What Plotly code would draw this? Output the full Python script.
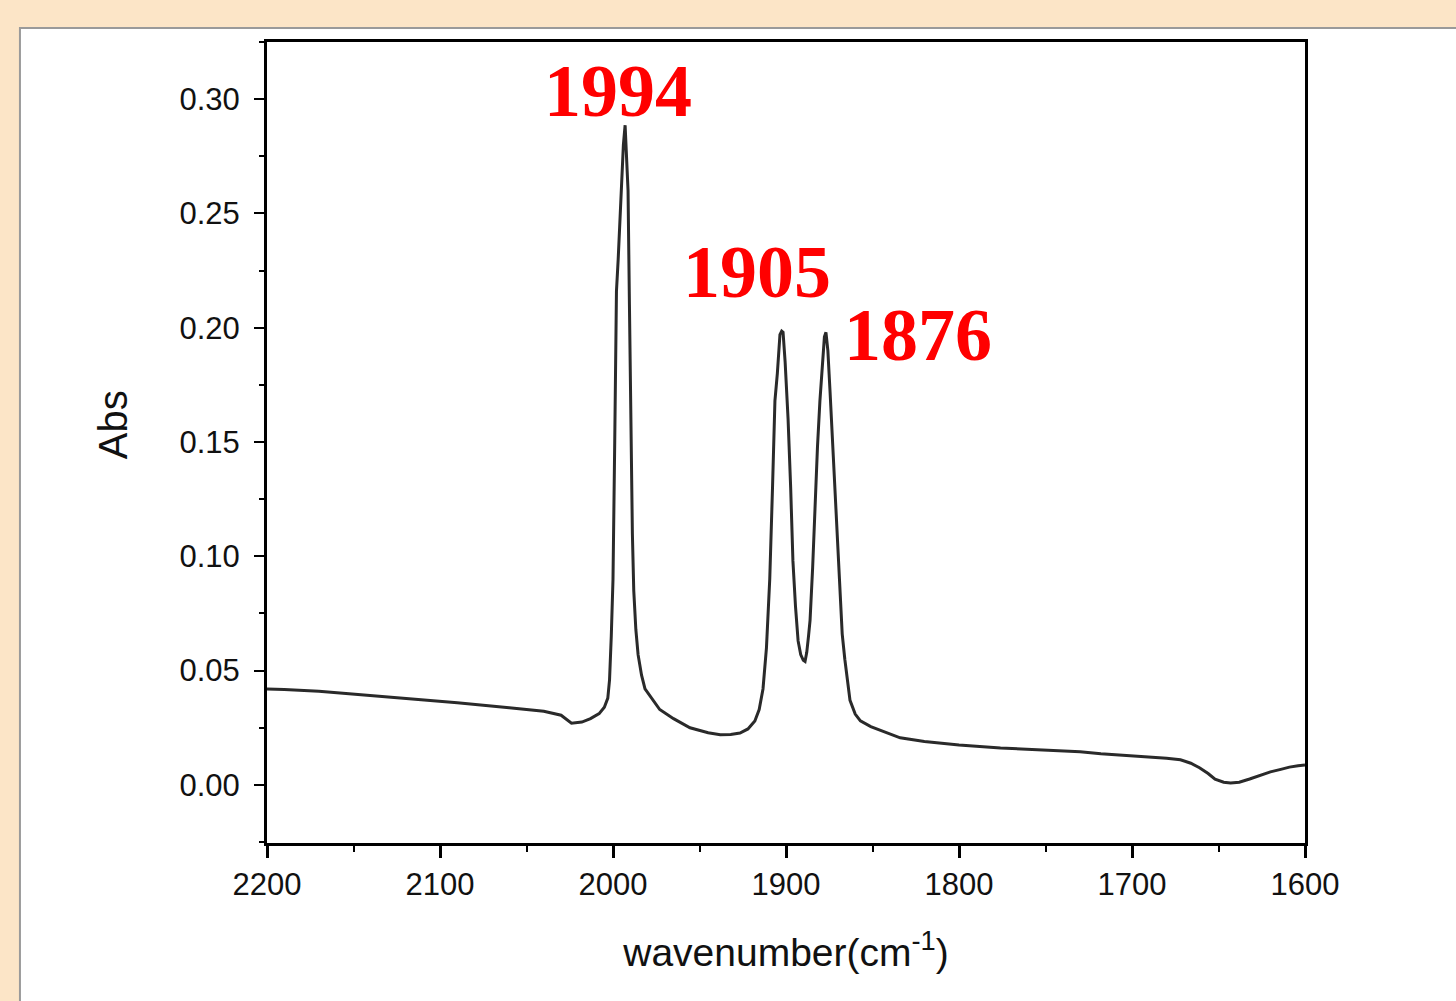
import plotly.graph_objects as go

# Spectrum
wavenumber = [2200, 2190, 2170, 2150, 2120, 2090, 2060, 2040, 2030, 2024, 2018, 2013, 2008, 2005,
              2003, 2002, 2001, 2000, 1999, 1998, 1997, 1995.5, 1994, 1993, 1992, 1991.3, 1990.5,
              1989.6, 1988.8, 1988, 1986.8, 1985.5, 1983.5, 1981.5, 1977, 1973, 1965, 1955.5,
              1945, 1938, 1932, 1926.6, 1922, 1918, 1915.5, 1913.3, 1911.3, 1909.4, 1907.8, 1906.4,
              1905, 1903.5, 1902.5, 1901.7, 1900.5, 1898.8, 1897.3, 1896, 1894.5, 1893, 1891.5,
              1890, 1889, 1888, 1887, 1886.1, 1884.6, 1883.2, 1881.8, 1880.4, 1879, 1877.8, 1876.9,
              1875.8, 1874.6, 1872.8, 1871.1, 1870, 1868.8, 1867.5, 1866, 1864.5, 1863, 1860,
              1857, 1851, 1845.7, 1840, 1834, 1820, 1800, 1776, 1760, 1747, 1730, 1718, 1700,
              1690, 1680, 1672, 1666, 1661, 1656, 1652, 1647, 1643, 1638, 1632, 1626, 1620, 1614,
              1609, 1604, 1600]
absorbance = [0.0420, 0.0418, 0.0410, 0.0398, 0.0380, 0.0360, 0.0338, 0.0322, 0.0305, 0.0270,
              0.0275, 0.0290, 0.0312, 0.0340, 0.0380, 0.0460, 0.0650, 0.0900, 0.1500, 0.2160,
              0.2300, 0.2560, 0.2800, 0.2886, 0.2750, 0.2600, 0.2100, 0.1420, 0.1100, 0.0850,
              0.0680, 0.0570, 0.0480, 0.0420, 0.0370, 0.0330, 0.0290, 0.0250, 0.0228, 0.0220,
              0.0221, 0.0227, 0.0245, 0.0280, 0.0330, 0.0420, 0.0600, 0.0900, 0.1300, 0.1680,
              0.1800, 0.1970, 0.1985, 0.1980, 0.1850, 0.1600, 0.1300, 0.0980, 0.0780, 0.0630,
              0.0570, 0.0545, 0.0540, 0.0580, 0.0650, 0.0720, 0.0950, 0.1250, 0.1480, 0.1680,
              0.1850, 0.1960, 0.1980, 0.1900, 0.1730, 0.1450, 0.1200, 0.1000, 0.0810, 0.0660,
              0.0550, 0.0450, 0.0370, 0.0310, 0.0280, 0.0255, 0.0240, 0.0222, 0.0206, 0.0190,
              0.0175, 0.0162, 0.0157, 0.0153, 0.0145, 0.0136, 0.0128, 0.0122, 0.0117, 0.0110,
              0.0095, 0.0075, 0.0050, 0.0025, 0.0012, 0.0008, 0.0012, 0.0026, 0.0042, 0.0057,
              0.0068, 0.0078, 0.0084, 0.0087]

peak_labels = ["1994", "1905", "1876"]
peak_label_x = [1997, 1917, 1823.5]
peak_label_y = [0.3035, 0.2243, 0.1968]

x_ticks = [2200, 2100, 2000, 1900, 1800, 1700, 1600]
y_ticks = [0.00, 0.05, 0.10, 0.15, 0.20, 0.25, 0.30]

fig = go.Figure()
fig.add_trace(go.Scatter(
    x=wavenumber, y=absorbance, mode="lines",
    line=dict(color="#2a2a2a", width=3), showlegend=False,
))

for txt, px, py in zip(peak_labels, peak_label_x, peak_label_y):
    fig.add_annotation(x=px, y=py, text=f"<b>{txt}</b>", showarrow=False,
                       font=dict(family="Liberation Serif, Times New Roman, serif",
                                 size=74, color="#ff0000"),
                       xanchor="center", yanchor="middle")

# Y axis title placed as a rotated annotation
fig.add_annotation(xref="paper", yref="paper", x=-0.148, y=0.522, text="Abs",
                   textangle=-90, showarrow=False, xanchor="center", yanchor="middle",
                   font=dict(family="Liberation Sans, Arial, sans-serif", size=40,
                             color="#111111"))

# White panel over the peach background
fig.add_shape(type="rect", xref="paper", yref="paper",
              x0=-0.238, x1=1.2, y0=-0.3, y1=1.0175,
              fillcolor="white", line=dict(color="#9a9a9a", width=2), layer="below")

axis_font = dict(family="Liberation Sans, Arial, sans-serif", size=31, color="#111111")

fig.update_layout(
    width=1456, height=1001,
    margin=dict(l=267, r=151, t=42, b=158),
    paper_bgcolor="#fce5c7",
    plot_bgcolor="white",
    font=axis_font,
    xaxis=dict(
        range=[2200, 1600], tickvals=x_ticks, ticktext=[str(v) for v in x_ticks],
        showgrid=False, zeroline=False, showline=True, linecolor="black", linewidth=3,
        mirror=True, ticks="outside", ticklen=12, tickwidth=3, tickcolor="black",
        minor=dict(ticks="outside", ticklen=6, tickwidth=2, tickcolor="black", dtick=50),
        tickfont=axis_font,
        title=dict(text="wavenumber(cm<sup>-1</sup>)",
                   font=dict(family="Liberation Sans, Arial, sans-serif", size=39,
                             color="#111111"), standoff=38),
    ),
    yaxis=dict(
        range=[-0.0254, 0.325], tickvals=y_ticks, ticktext=[f"{v:.2f}" for v in y_ticks],
        showgrid=False, zeroline=False, showline=True, linecolor="black", linewidth=3,
        mirror=True, ticks="outside", ticklen=10, tickwidth=2, tickcolor="black",
        ticklabelstandoff=8,
        minor=dict(ticks="outside", ticklen=5, tickwidth=2, tickcolor="black", dtick=0.025),
        tickfont=axis_font,
    ),
)

fig.write_html("out.html")
